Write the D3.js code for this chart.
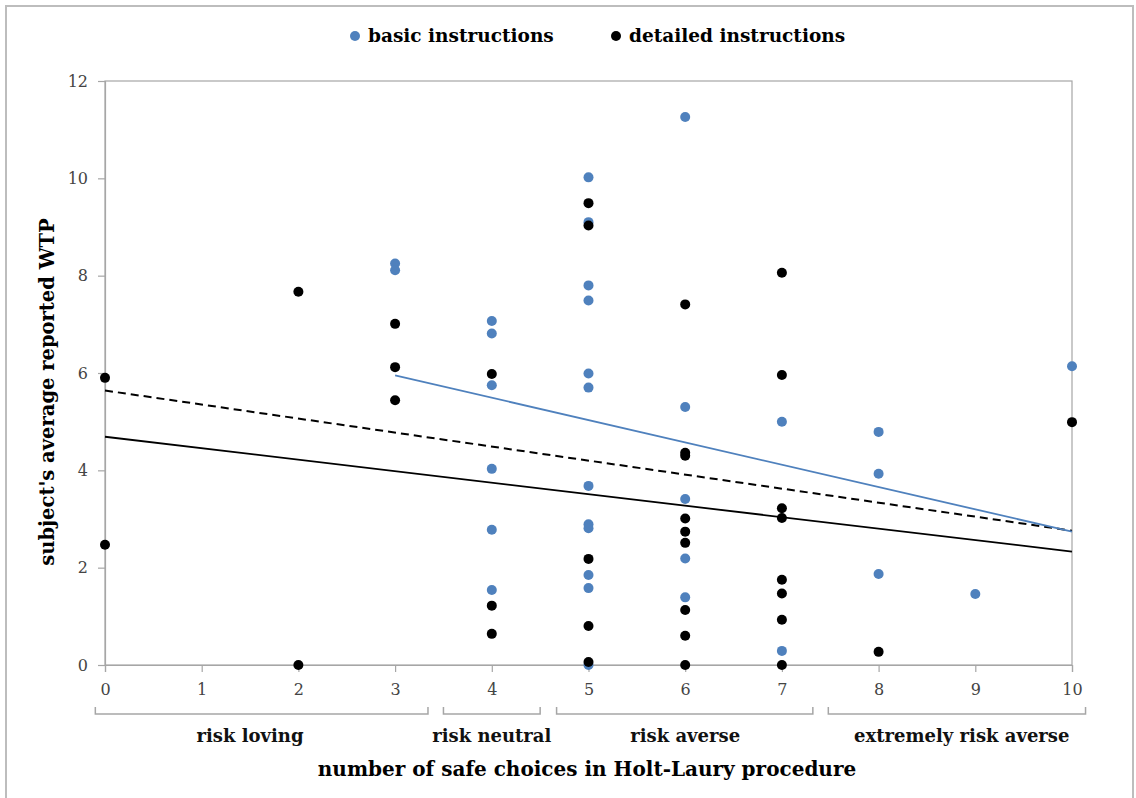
<!DOCTYPE html>
<html>
<head>
<meta charset="utf-8">
<script src="https://cdn.jsdelivr.net/npm/d3@7"></script>
<style>
  html, body { margin: 0; padding: 0; background: #fff; }
  svg { display: block; }
</style>
</head>
<body>
<svg id="chart" width="1136" height="798"></svg>
<script>
// ---------- data ----------
const seriesNames = ["basic instructions", "detailed instructions"];
const seriesColors = ["#4F81BD", "#000000"];

// basic instructions: [safe choices, WTP]
const basicPts = [
  [3, 8.25], [3, 8.11],
  [4, 7.07], [4, 6.81], [4, 5.75], [4, 4.03], [4, 2.78], [4, 1.54],
  [5, 10.02], [5, 9.10], [5, 7.80], [5, 7.49], [5, 5.99], [5, 5.70], [5, 3.68], [5, 2.89], [5, 2.81], [5, 1.85], [5, 1.58], [5, 0.0],
  [6, 11.26], [6, 5.30], [6, 3.41], [6, 2.19], [6, 1.39],
  [7, 5.0], [7, 0.29],
  [8, 4.79], [8, 3.93], [8, 1.87],
  [9, 1.46],
  [10, 6.14]
];
// detailed instructions: [safe choices, WTP]
const detailedPts = [
  [0, 5.90], [0, 2.47],
  [2, 7.67], [2, 0.0],
  [3, 7.01], [3, 6.12], [3, 5.44],
  [4, 5.98], [4, 1.22], [4, 0.64],
  [5, 9.49], [5, 9.03], [5, 2.18], [5, 0.80], [5, 0.06],
  [6, 7.41], [6, 4.36], [6, 4.30], [6, 3.01], [6, 2.74], [6, 2.51], [6, 1.13], [6, 0.60], [6, 0.0],
  [7, 8.06], [7, 5.96], [7, 3.22], [7, 3.02], [7, 1.75], [7, 1.47], [7, 0.93], [7, 0.0],
  [8, 0.27],
  [10, 4.99]
];

// trend lines: [[x0, y0], [x1, y1]]
const trendBasic = [[3, 5.95], [10, 2.74]];
const trendPooled = [[0, 5.64], [10, 2.76]];
const trendDetailed = [[0, 4.69], [10, 2.33]];

const xTicks = [0, 1, 2, 3, 4, 5, 6, 7, 8, 9, 10];
const yTicks = [0, 2, 4, 6, 8, 10, 12];

// risk categories: label, bracket start/end and label centre in axis units
const groupLabels = ["risk loving", "risk neutral", "risk averse", "extremely risk averse"];
const groupStart = [-0.1, 3.5, 4.67, 7.48];
const groupEnd = [3.34, 4.5, 7.32, 10.14];
const groupCenter = [1.5, 4.0, 6.0, 8.86];

const xTitle = "number of safe choices in Holt-Laury procedure";
const yTitle = "subject's average reported WTP";

// ---------- drawing ----------
const svg = d3.select("#chart");
const font = "'DejaVu Serif', 'Liberation Serif', serif";
const pLeft = 105, pRight = 1072, pTop = 81, pBottom = 665;

const x = d3.scaleLinear().domain([0, 10]).range([pLeft, pRight]);
const y = d3.scaleLinear().domain([0, 12]).range([pBottom, pTop]);

// outer frame
svg.append("rect")
  .attr("x", 6).attr("y", 6).attr("width", 1127).attr("height", 800)
  .attr("fill", "none").attr("stroke", "#BDBDBD").attr("stroke-width", 2);

// plot box
svg.append("rect")
  .attr("x", pLeft).attr("y", pTop).attr("width", pRight - pLeft).attr("height", pBottom - pTop)
  .attr("fill", "none").attr("stroke", "#A6A6A6").attr("stroke-width", 1.2);

// y axis
const yAxis = svg.append("g").attr("transform", `translate(${pLeft},0)`)
  .call(d3.axisLeft(y).tickValues(yTicks).tickSize(7).tickPadding(10).tickFormat(d3.format("d")));
yAxis.select(".domain").attr("stroke", "#A6A6A6").attr("stroke-width", 1.2);
yAxis.selectAll(".tick line").attr("stroke", "#A6A6A6").attr("stroke-width", 1.2);
yAxis.selectAll(".tick text").attr("font-family", font).attr("font-size", 16).attr("fill", "#444");

// x axis
const xAxis = svg.append("g").attr("transform", `translate(0,${pBottom})`)
  .call(d3.axisBottom(x).tickValues(xTicks).tickSize(7).tickPadding(12).tickFormat(d3.format("d")));
xAxis.select(".domain").attr("stroke", "#A6A6A6").attr("stroke-width", 1.2);
xAxis.selectAll(".tick line").attr("stroke", "#A6A6A6").attr("stroke-width", 1.2);
xAxis.selectAll(".tick text").attr("font-family", font).attr("font-size", 16).attr("fill", "#444");

// trend lines
const line = d3.line().x(d => x(d[0])).y(d => y(d[1]));
svg.append("path").datum(trendPooled).attr("d", line)
  .attr("fill", "none").attr("stroke", "#000").attr("stroke-width", 2).attr("stroke-dasharray", "8,5");
svg.append("path").datum(trendDetailed).attr("d", line)
  .attr("fill", "none").attr("stroke", "#000").attr("stroke-width", 1.8);
svg.append("path").datum(trendBasic).attr("d", line)
  .attr("fill", "none").attr("stroke", seriesColors[0]).attr("stroke-width", 1.8);

// points
svg.append("g").selectAll("circle").data(basicPts).join("circle")
  .attr("cx", d => x(d[0])).attr("cy", d => y(d[1])).attr("r", 5)
  .attr("fill", seriesColors[0]);
svg.append("g").selectAll("circle").data(detailedPts).join("circle")
  .attr("cx", d => x(d[0])).attr("cy", d => y(d[1])).attr("r", 5)
  .attr("fill", seriesColors[1]);

// group brackets
const bracketTop = 707, bracketBot = 714;
const g = svg.append("g");
groupLabels.forEach((lab, i) => {
  const x0 = x(groupStart[i]), x1 = x(groupEnd[i]);
  g.append("path")
    .attr("d", `M${x0},${bracketTop}V${bracketBot}H${x1}V${bracketTop}`)
    .attr("fill", "none").attr("stroke", "#A6A6A6").attr("stroke-width", 1.5);
  g.append("text")
    .attr("x", x(groupCenter[i])).attr("y", 742)
    .attr("text-anchor", "middle")
    .attr("font-family", font).attr("font-size", 18).attr("font-weight", "bold").attr("fill", "#111")
    .text(lab);
});

// axis titles
svg.append("text")
  .attr("x", 587).attr("y", 776).attr("text-anchor", "middle")
  .attr("font-family", font).attr("font-size", 20).attr("font-weight", "bold").attr("fill", "#000")
  .text(xTitle);
svg.append("text")
  .attr("transform", `translate(54,${392}) rotate(-90)`)
  .attr("text-anchor", "middle")
  .attr("font-family", font).attr("font-size", 19.5).attr("font-weight", "bold").attr("fill", "#000")
  .text(yTitle);

// legend
const legX = [355, 616];
seriesNames.forEach((name, i) => {
  svg.append("circle").attr("cx", legX[i]).attr("cy", 36).attr("r", 5).attr("fill", seriesColors[i]);
  svg.append("text").attr("x", legX[i] + 13).attr("y", 42)
    .attr("font-family", font).attr("font-size", 18.5).attr("font-weight", "bold").attr("fill", "#000")
    .text(name);
});
</script>
</body>
</html>
